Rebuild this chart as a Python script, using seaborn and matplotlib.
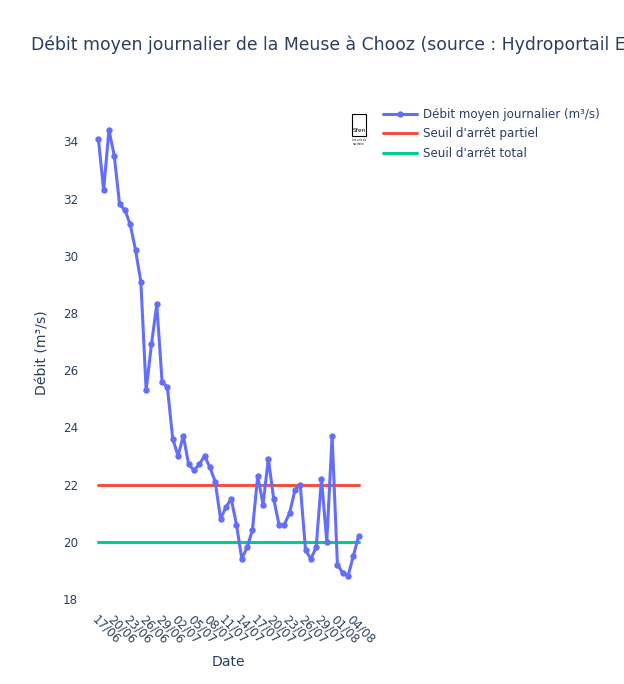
import numpy as np
import pandas as pd
import matplotlib
matplotlib.use("Agg")
import matplotlib.pyplot as plt
import matplotlib.dates as mdates
from matplotlib.lines import Line2D
import seaborn as sns

# ---- data ----
start_date = "2025-06-17"
debit = [34.1, 32.3, 34.4, 33.5, 31.8, 31.6, 31.1, 30.2, 29.1, 25.3,
         26.9, 28.3, 25.6, 25.4, 23.6, 23.0, 23.7, 22.7, 22.5, 22.7,
         23.0, 22.6, 22.1, 20.8, 21.2, 21.5, 20.6, 19.4, 19.8, 20.4,
         22.3, 21.3, 22.9, 21.5, 20.6, 20.6, 21.0, 21.8, 22.0, 19.7,
         19.4, 19.8, 22.2, 20.0, 23.7, 19.2, 18.9, 18.8, 19.5, 20.2]
seuil_partiel = 22
seuil_total = 20
y_ticks = [18, 20, 22, 24, 26, 28, 30, 32, 34]

dates = pd.date_range(start_date, periods=len(debit), freq="D")
df = pd.DataFrame({"Date": dates, "Debit": debit})
df_partiel = pd.DataFrame({"Date": [dates[0], dates[-1]], "v": [seuil_partiel] * 2})
df_total = pd.DataFrame({"Date": [dates[0], dates[-1]], "v": [seuil_total] * 2})

sns.set_theme(style="white")
plt.rcParams["font.family"] = ["DejaVu Sans"]
TXT = "#2a3f5f"
BLUE = "#636efa"
RED = "#EF553B"
GREEN = "#00cc96"

fig = plt.figure(figsize=(6.24, 6.84), dpi=100)
ax = fig.add_axes([80 / 624, 1 - 606 / 684, (377 - 80) / 624, (606 - 100) / 684])

sns.lineplot(data=df, x="Date", y="Debit", ax=ax, color=BLUE, linewidth=2.2,
             marker="o", markersize=4.6, markeredgewidth=0, zorder=3)
sns.lineplot(data=df_partiel, x="Date", y="v", ax=ax, color=RED, linewidth=2.2, zorder=2)
sns.lineplot(data=df_total, x="Date", y="v", ax=ax, color=GREEN, linewidth=2.2, zorder=2)

pad = pd.Timedelta(days=3.45)
ax.set_xlim(dates[0] - pad, dates[-1] + pad)
ax.set_ylim(17.75, 35.45)
ax.set_yticks(y_ticks)
ax.set_yticklabels([str(t) for t in y_ticks])
xt = pd.date_range(dates[0], dates[-1], freq="3D")
ax.set_xticks(xt)
ax.set_xticklabels([d.strftime("%d/%m") for d in xt], rotation=-45,
                   ha="left", va="top", rotation_mode="anchor")
ax.tick_params(axis="both", length=0, labelsize=8.6, colors=TXT)
ax.tick_params(axis="x", pad=5)
ax.tick_params(axis="y", pad=1.5)
for s in ax.spines.values():
    s.set_visible(False)
ax.grid(False)

ax.set_xlabel("Date", fontsize=10.1, color=TXT)
ax.xaxis.set_label_coords((228 - 80) / (377 - 80), -(655 - 606) / (606 - 100))
ax.set_ylabel("Débit (m³/s)", fontsize=10.1, color=TXT)
ax.yaxis.set_label_coords(-(80 - 49) / (377 - 80), 0.5)

fig.text(31 / 624, 1 - 45 / 684,
         "Débit moyen journalier de la Meuse à Chooz (source : Hydroportail EauFrance)",
         fontsize=12.45, color=TXT, ha="left", va="center")

handles = [
    Line2D([], [], color=BLUE, linewidth=2.2, marker="o", markersize=4.6, markeredgewidth=0),
    Line2D([], [], color=RED, linewidth=2.2),
    Line2D([], [], color=GREEN, linewidth=2.2),
]
labels = ["Débit moyen journalier (m³/s)", "Seuil d'arrêt partiel", "Seuil d'arrêt total"]
fig.legend(handles, labels, loc="upper left", bbox_to_anchor=(378 / 624, 1 - 103 / 684),
           frameon=False, fontsize=8.6, labelcolor=TXT, handlelength=2.9,
           handletextpad=0.45, labelspacing=0.55, borderaxespad=0)

# small Sfen logo
fig.patches.append(plt.Rectangle((352 / 624, 1 - 136 / 684), 14 / 624, 22 / 684,
                                 transform=fig.transFigure, fill=True, facecolor="white",
                                 edgecolor="black", linewidth=0.8, figure=fig))
fig.text(359 / 624, 1 - 131 / 684, "Sfen", fontsize=4.2, color="black",
         ha="center", va="center")
fig.text(359 / 624, 1 - 142 / 684, "Les voix du\nnucléaire", fontsize=1.8, color="black",
         ha="center", va="center", linespacing=1.0)

fig.savefig("out.png", dpi=100)
